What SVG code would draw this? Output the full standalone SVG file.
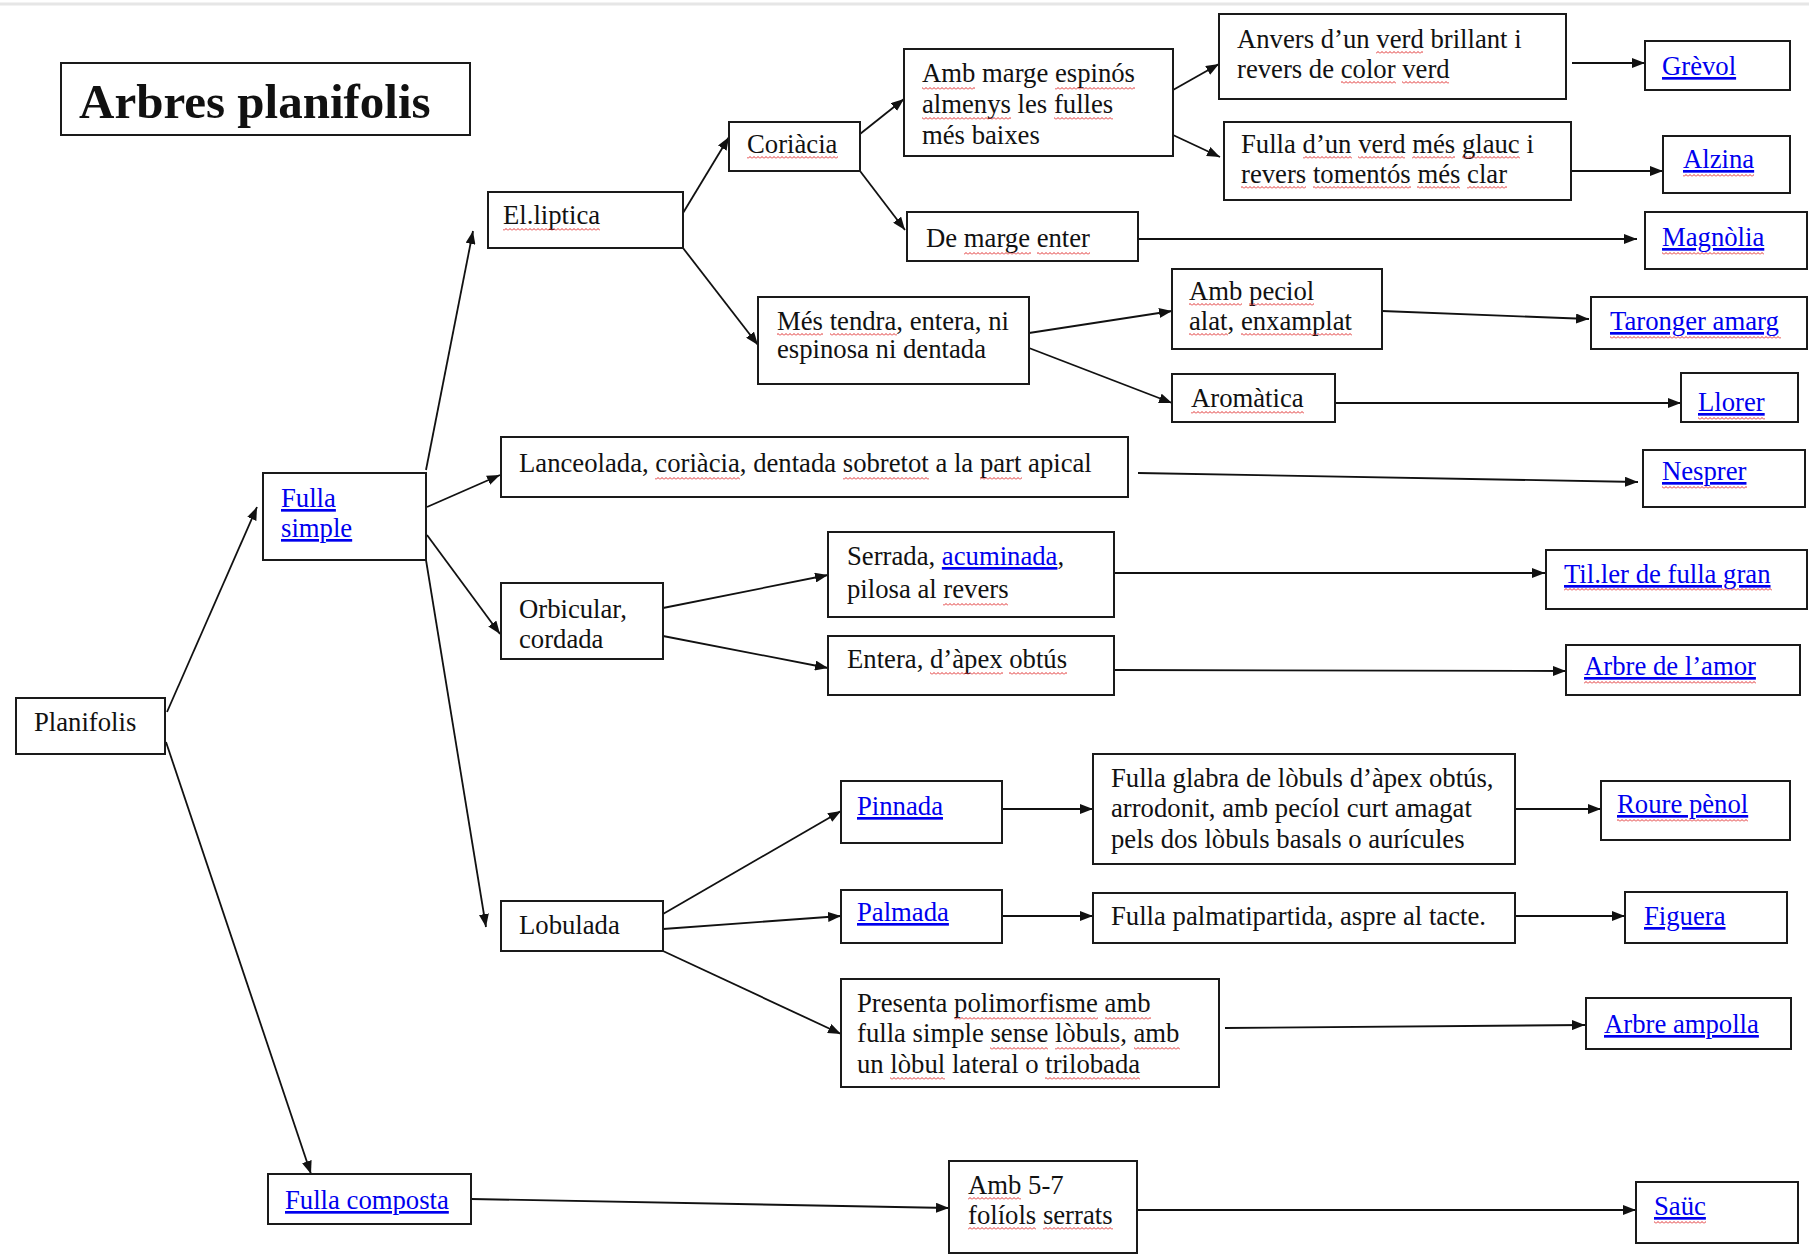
<svg xmlns="http://www.w3.org/2000/svg" width="1809" height="1255" viewBox="0 0 1809 1255">
<style>
.bx{fill:#fff;stroke:#1a1a1a;stroke-width:2}
.t{font-family:"Liberation Serif","Times New Roman",serif;font-size:26.7px;fill:#111}
.ttl{font-family:"Liberation Serif","Times New Roman",serif;font-size:49px;font-weight:bold;fill:#111}
.lk{fill:#0000ee;text-decoration:underline}
.cn{stroke:#111;stroke-width:1.8;fill:none;marker-end:url(#ah)}
.sq{fill:url(#wv)}
</style>
<defs>
<marker id="ah" markerUnits="userSpaceOnUse" markerWidth="13" markerHeight="10" refX="13" refY="5" orient="auto">
<path d="M0,0 L13,5 L0,10 z" fill="#111"/>
</marker>
<pattern id="wv" patternUnits="userSpaceOnUse" width="4" height="3">
<path d="M0,2.5 L2,0.5 L4,2.5" fill="none" stroke="#e03030" stroke-width="1"/>
</pattern>
</defs>
<rect width="1809" height="1255" fill="#fff"/>
<line x1="0" y1="4" x2="1809" y2="4" stroke="#e6e6e6" stroke-width="3"/>

<g id="connectors">
<line class="cn" x1="167" y1="712" x2="257" y2="507"/>
<line class="cn" x1="166" y1="742" x2="311" y2="1174"/>
<line class="cn" x1="426" y1="470" x2="473" y2="231"/>
<line class="cn" x1="427" y1="507" x2="500" y2="475"/>
<line class="cn" x1="427" y1="535" x2="500" y2="634"/>
<line class="cn" x1="426" y1="560" x2="486" y2="927"/>
<line class="cn" x1="683" y1="213" x2="729" y2="137"/>
<line class="cn" x1="683" y1="248" x2="758" y2="345"/>
<line class="cn" x1="860" y1="134" x2="904" y2="99"/>
<line class="cn" x1="860" y1="171" x2="905" y2="230"/>
<line class="cn" x1="1173" y1="90" x2="1219" y2="64"/>
<line class="cn" x1="1173" y1="135" x2="1220" y2="157"/>
<line class="cn" x1="1572" y1="63" x2="1645" y2="63"/>
<line class="cn" x1="1571" y1="171" x2="1663" y2="171"/>
<line class="cn" x1="1138" y1="239" x2="1637" y2="239"/>
<line class="cn" x1="1029" y1="333" x2="1172" y2="311"/>
<line class="cn" x1="1029" y1="348" x2="1172" y2="403"/>
<line class="cn" x1="1382" y1="311" x2="1589" y2="319"/>
<line class="cn" x1="1335" y1="403" x2="1681" y2="403"/>
<line class="cn" x1="1138" y1="473" x2="1638" y2="482"/>
<line class="cn" x1="663" y1="608" x2="828" y2="575"/>
<line class="cn" x1="663" y1="636" x2="828" y2="668"/>
<line class="cn" x1="1114" y1="573" x2="1545" y2="573"/>
<line class="cn" x1="1114" y1="670" x2="1566" y2="671"/>
<line class="cn" x1="663" y1="914" x2="841" y2="811"/>
<line class="cn" x1="663" y1="929" x2="841" y2="916"/>
<line class="cn" x1="663" y1="951" x2="841" y2="1034"/>
<line class="cn" x1="1002" y1="809" x2="1093" y2="809"/>
<line class="cn" x1="1002" y1="916" x2="1093" y2="916"/>
<line class="cn" x1="1515" y1="809" x2="1601" y2="809"/>
<line class="cn" x1="1515" y1="916" x2="1625" y2="916"/>
<line class="cn" x1="1225" y1="1028" x2="1585" y2="1025"/>
<line class="cn" x1="471" y1="1199" x2="949" y2="1208"/>
<line class="cn" x1="1137" y1="1210" x2="1636" y2="1210"/>
</g>

<g id="title"><rect class="bx" x="61" y="63" width="409" height="72"/><text class="ttl" x="79" y="118">Arbres planifolis</text></g>
<g id="planifolis"><rect class="bx" x="16" y="698" width="149" height="56"/><text class="t" x="34" y="731">Planifolis</text></g>
<g id="fulla-simple"><rect class="bx" x="263" y="473" width="163" height="87"/><text class="t lk" x="281" y="507">Fulla<tspan x="281" dy="30">simple</tspan></text></g>
<g id="fulla-composta"><rect class="bx" x="268" y="1174" width="203" height="50"/><text class="t lk" x="285" y="1209">Fulla composta</text></g>
<g id="elliptica"><rect class="bx" x="488" y="192" width="195" height="56"/><text class="t" x="503" y="224"><tspan class="sp">El.liptica</tspan></text></g>
<g id="lanceolada"><rect class="bx" x="501" y="437" width="627" height="60"/><text class="t" x="519" y="472">Lanceolada, <tspan class="sp">coriàcia</tspan>, dentada <tspan class="sp">sobretot</tspan> a la <tspan class="sp">part</tspan> apical</text></g>
<g id="orbicular"><rect class="bx" x="501" y="583" width="162" height="76"/><text class="t" x="519" y="618">Orbicular,<tspan x="519" dy="30">cordada</tspan></text></g>
<g id="lobulada"><rect class="bx" x="501" y="901" width="162" height="50"/><text class="t" x="519" y="934">Lobulada</text></g>
<g id="coriacia"><rect class="bx" x="729" y="122" width="131" height="49"/><text class="t" x="747" y="153"><tspan class="sp">Coriàcia</tspan></text></g>
<g id="mes-tendra"><rect class="bx" x="758" y="297" width="271" height="87"/><text class="t" x="777" y="330"><tspan class="sp">Més</tspan> <tspan class="sp">tendra</tspan>, entera, ni<tspan x="777" dy="28">espinosa ni dentada</tspan></text></g>
<g id="amb-marge"><rect class="bx" x="904" y="49" width="269" height="107"/><text class="t" x="922" y="82"><tspan class="sp">Amb</tspan> marge <tspan class="sp">espinós</tspan><tspan x="922" dy="31"><tspan class="sp">almenys</tspan> les <tspan class="sp">fulles</tspan></tspan><tspan x="922" dy="31">més baixes</tspan></text></g>
<g id="de-marge"><rect class="bx" x="907" y="212" width="231" height="49"/><text class="t" x="926" y="247">De <tspan class="sp">marge</tspan> <tspan class="sp">enter</tspan></text></g>
<g id="anvers"><rect class="bx" x="1219" y="14" width="347" height="85"/><text class="t" x="1237" y="48">Anvers d’un <tspan class="sp">verd</tspan> brillant i<tspan x="1237" dy="30">revers de <tspan class="sp">color</tspan> <tspan class="sp">verd</tspan></tspan></text></g>
<g id="fulla-verd"><rect class="bx" x="1224" y="122" width="347" height="78"/><text class="t" x="1241" y="153">Fulla <tspan class="sp">d’un</tspan> <tspan class="sp">verd</tspan> <tspan class="sp">més</tspan> <tspan class="sp">glauc</tspan> i<tspan x="1241" dy="30"><tspan class="sp">revers</tspan> <tspan class="sp">tomentós</tspan> <tspan class="sp">més</tspan> <tspan class="sp">clar</tspan></tspan></text></g>
<g id="amb-peciol"><rect class="bx" x="1172" y="269" width="210" height="80"/><text class="t" x="1189" y="300"><tspan class="sp">Amb</tspan> <tspan class="sp">peciol</tspan><tspan x="1189" dy="30"><tspan class="sp">alat</tspan>, <tspan class="sp">enxamplat</tspan></tspan></text></g>
<g id="aromatica"><rect class="bx" x="1172" y="374" width="163" height="48"/><text class="t" x="1191" y="407"><tspan class="sp">Aromàtica</tspan></text></g>
<g id="serrada"><rect class="bx" x="828" y="532" width="286" height="85"/><text class="t" x="847" y="565">Serrada, <tspan class="lk">acuminada</tspan>,<tspan x="847" dy="33">pilosa al <tspan class="sp">revers</tspan></tspan></text></g>
<g id="entera"><rect class="bx" x="828" y="636" width="286" height="59"/><text class="t" x="847" y="668">Entera, <tspan class="sp">d’àpex</tspan> <tspan class="sp">obtús</tspan></text></g>
<g id="pinnada"><rect class="bx" x="841" y="781" width="161" height="62"/><text class="t lk" x="857" y="815">Pinnada</text></g>
<g id="palmada"><rect class="bx" x="841" y="890" width="161" height="53"/><text class="t lk" x="857" y="921">Palmada</text></g>
<g id="presenta"><rect class="bx" x="841" y="979" width="378" height="108"/><text class="t" x="857" y="1012">Presenta <tspan class="sp">polimorfisme</tspan> <tspan class="sp">amb</tspan><tspan x="857" dy="30">fulla simple <tspan class="sp">sense</tspan> <tspan class="sp">lòbuls</tspan>, <tspan class="sp">amb</tspan></tspan><tspan x="857" dy="31">un <tspan class="sp">lòbul</tspan> lateral o <tspan class="sp">trilobada</tspan></tspan></text></g>
<g id="fulla-glabra"><rect class="bx" x="1093" y="754" width="422" height="110"/><text class="t" x="1111" y="787">Fulla glabra de lòbuls d’àpex obtús,<tspan x="1111" dy="30">arrodonit, amb pecíol curt amagat</tspan><tspan x="1111" dy="31">pels dos lòbuls basals o aurícules</tspan></text></g>
<g id="fulla-palmatipartida"><rect class="bx" x="1093" y="893" width="422" height="50"/><text class="t" x="1111" y="925">Fulla palmatipartida, aspre al tacte.</text></g>
<g id="amb-5-7"><rect class="bx" x="949" y="1161" width="188" height="92"/><text class="t" x="968" y="1194"><tspan class="sp">Amb</tspan> 5-7<tspan x="968" dy="30"><tspan class="sp">folíols</tspan> <tspan class="sp">serrats</tspan></tspan></text></g>
<g id="grevol"><rect class="bx" x="1645" y="41" width="145" height="49"/><text class="t lk" x="1662" y="75">Grèvol</text></g>
<g id="alzina"><rect class="bx" x="1663" y="136" width="127" height="57"/><text class="t lk" x="1683" y="168"><tspan class="sp">Alzina</tspan></text></g>
<g id="magnolia"><rect class="bx" x="1645" y="212" width="162" height="57"/><text class="t lk" x="1662" y="246"><tspan class="sp">Magnòlia</tspan></text></g>
<g id="taronger"><rect class="bx" x="1591" y="297" width="216" height="52"/><text class="t lk" x="1610" y="330"><tspan class="sp">Taronger amarg</tspan></text></g>
<g id="llorer"><rect class="bx" x="1681" y="373" width="117" height="49"/><text class="t lk" x="1698" y="411"><tspan class="sp">Llorer</tspan></text></g>
<g id="nesprer"><rect class="bx" x="1643" y="450" width="162" height="57"/><text class="t lk" x="1662" y="480"><tspan class="sp">Nesprer</tspan></text></g>
<g id="tiller"><rect class="bx" x="1546" y="550" width="261" height="59"/><text class="t lk" x="1564" y="583"><tspan class="sp">Til.ler de fulla gran</tspan></text></g>
<g id="arbre-amor"><rect class="bx" x="1566" y="645" width="234" height="50"/><text class="t lk" x="1584" y="675"><tspan class="sp">Arbre de l’amor</tspan></text></g>
<g id="roure"><rect class="bx" x="1601" y="781" width="189" height="59"/><text class="t lk" x="1617" y="813"><tspan class="sp">Roure pènol</tspan></text></g>
<g id="figuera"><rect class="bx" x="1625" y="892" width="162" height="51"/><text class="t lk" x="1644" y="925">Figuera</text></g>
<g id="arbre-ampolla"><rect class="bx" x="1586" y="998" width="205" height="51"/><text class="t lk" x="1604" y="1033">Arbre ampolla</text></g>
<g id="sauc"><rect class="bx" x="1636" y="1182" width="162" height="61"/><text class="t lk" x="1654" y="1215"><tspan class="sp">Saüc</tspan></text></g>

<g id="spellcheck">
<rect class="sq" x="503" y="228" width="97" height="3"/>
<rect class="sq" x="655" y="477" width="85" height="3"/>
<rect class="sq" x="843" y="477" width="86" height="3"/>
<rect class="sq" x="980" y="477" width="42" height="3"/>
<rect class="sq" x="747" y="156" width="91" height="3"/>
<rect class="sq" x="777" y="333" width="46" height="3"/>
<rect class="sq" x="830" y="333" width="67" height="3"/>
<rect class="sq" x="922" y="87" width="53" height="3"/>
<rect class="sq" x="1055" y="87" width="80" height="3"/>
<rect class="sq" x="922" y="117" width="89" height="3"/>
<rect class="sq" x="1054" y="117" width="59" height="3"/>
<rect class="sq" x="964" y="252" width="67" height="3"/>
<rect class="sq" x="1037" y="252" width="53" height="3"/>
<rect class="sq" x="1376" y="51" width="47" height="3"/>
<rect class="sq" x="1341" y="81" width="55" height="3"/>
<rect class="sq" x="1402" y="81" width="47" height="3"/>
<rect class="sq" x="1303" y="156" width="49" height="3"/>
<rect class="sq" x="1358" y="156" width="47" height="3"/>
<rect class="sq" x="1412" y="156" width="43" height="3"/>
<rect class="sq" x="1462" y="156" width="58" height="3"/>
<rect class="sq" x="1241" y="186" width="65" height="3"/>
<rect class="sq" x="1313" y="186" width="98" height="3"/>
<rect class="sq" x="1417" y="186" width="43" height="3"/>
<rect class="sq" x="1467" y="186" width="40" height="3"/>
<rect class="sq" x="1189" y="303" width="53" height="3"/>
<rect class="sq" x="1249" y="303" width="65" height="3"/>
<rect class="sq" x="1189" y="333" width="39" height="3"/>
<rect class="sq" x="1241" y="333" width="111" height="3"/>
<rect class="sq" x="1191" y="411" width="113" height="3"/>
<rect class="sq" x="943" y="603" width="65" height="3"/>
<rect class="sq" x="930" y="672" width="73" height="3"/>
<rect class="sq" x="1009" y="672" width="58" height="3"/>
<rect class="sq" x="954" y="1017" width="144" height="3"/>
<rect class="sq" x="1105" y="1017" width="46" height="3"/>
<rect class="sq" x="990" y="1047" width="58" height="3"/>
<rect class="sq" x="1055" y="1047" width="65" height="3"/>
<rect class="sq" x="1134" y="1047" width="46" height="3"/>
<rect class="sq" x="890" y="1077" width="55" height="3"/>
<rect class="sq" x="1045" y="1077" width="95" height="3"/>
<rect class="sq" x="968" y="1197" width="53" height="3"/>
<rect class="sq" x="968" y="1227" width="68" height="3"/>
<rect class="sq" x="1043" y="1227" width="70" height="3"/>
<rect class="sq" x="1683" y="174" width="71" height="3"/>
<rect class="sq" x="1662" y="252" width="102" height="3"/>
<rect class="sq" x="1610" y="336" width="171" height="3"/>
<rect class="sq" x="1698" y="417" width="67" height="3"/>
<rect class="sq" x="1662" y="486" width="85" height="3"/>
<rect class="sq" x="1564" y="588" width="208" height="3"/>
<rect class="sq" x="1584" y="681" width="172" height="3"/>
<rect class="sq" x="1617" y="819" width="131" height="3"/>
<rect class="sq" x="1654" y="1221" width="52" height="3"/>
</g>
</svg>
